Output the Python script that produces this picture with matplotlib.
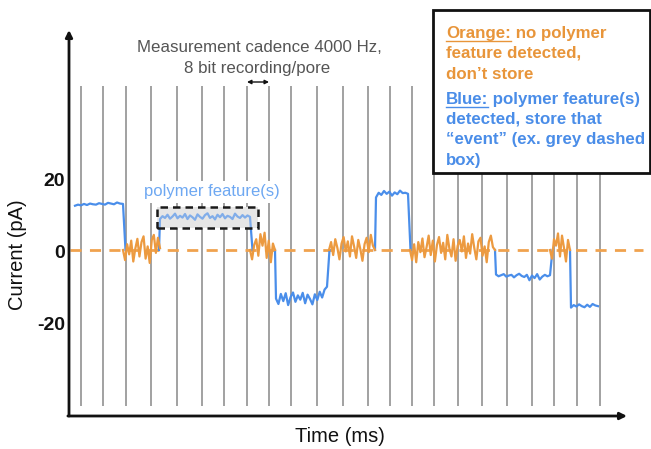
import numpy as np
import matplotlib
matplotlib.use("Agg")
import matplotlib.pyplot as plt
from matplotlib.patches import Rectangle
import matplotlib.transforms as mtransforms

plt.rcParams['font.family'] = ['Liberation Sans', 'DejaVu Sans']

# ---------------- data ----------------
y_ticks = [-20, 0, 20]
y_tick_labels = ["-20", "0", "20"]

# sampling boundaries (time, arbitrary units)
grid_times = [12, 34, 57, 82, 108, 133, 155, 178, 200, 222, 248, 274, 299,
              321, 343, 365, 389, 413, 438, 463, 485, 508, 531]

# blue: polymer feature segments
blue_start = [6, 91, 207, 307, 427, 502]
blue_end = [54, 181, 258, 339, 481, 529]
blue_1 = [12.3, 12.6, 12.4, 12.8, 12.5, 12.9, 12.7, 12.6, 13.0, 12.8, 12.6,
          13.1, 12.9, 12.7, 13.2, 12.9, 12.8]
blue_2 = [8.6, 9.4, 8.9, 9.8, 8.7, 9.3, 10.1, 8.8, 9.5, 9.0, 10.0, 8.6, 9.6,
          9.1, 8.4, 9.9, 9.2, 8.7, 9.7, 10.2, 8.9, 9.4, 8.5, 9.8, 9.1, 10.0,
          8.8, 9.5, 9.2, 8.6, 10.1, 9.3, 8.9, 9.7, 9.0, 9.6, 9.2]
blue_3 = [-13.5, -15.0, -12.2, -14.2, -12.0, -15.3, -13.1, -11.8, -14.4,
          -12.6, -13.8, -11.9, -14.8, -12.4, -13.6, -15.1, -12.3, -13.9,
          -11.6, -13.2, -11.0, -10.2]
blue_4 = [14.6, 15.9, 15.3, 16.4, 15.6, 16.2, 15.1, 16.0, 15.5, 16.5, 15.8,
          15.9, 15.6]
blue_5 = [-6.8, -7.3, -7.0, -6.7, -7.4, -7.1, -6.9, -7.6, -7.0, -6.6, -7.2,
          -7.5, -6.9, -8.4, -7.1, -7.8, -6.7, -8.2, -7.4, -6.9, -7.3, -7.0]
blue_6 = [-16.0, -15.3, -15.7, -15.1, -15.6, -15.9, -15.2, -15.8, -15.0,
          -15.4, -15.6]
blue_values = [blue_1, blue_2, blue_3, blue_4, blue_5, blue_6]

# orange: no polymer feature (baseline noise)
orange_start = [54, 181, 260, 341, 481]
orange_end = [91, 206, 306, 426, 501]
orange_1 = [0.0, -2.8, 1.6, -1.2, 2.6, -3.2, 0.4, 3.1, -1.8, 2.2, 3.8, -2.4,
            1.0, -3.6, 2.8, 4.2, -0.8, 3.4, 0.5]
orange_2 = [0.0, -2.6, 1.4, 3.0, -1.6, 4.4, 1.2, 4.8, -2.2, 2.6, -3.4, 1.8, 0.0]
orange_3 = [0.0, 2.2, -1.4, 3.0, 0.6, -2.6, 1.8, 3.6, -0.4, 2.4, -1.8, 3.8,
            1.0, -2.2, 2.8, 0.2, -3.0, 1.6, 3.4, -0.6, 4.2, 1.2, 0.0]
orange_4 = [0.0, -2.8, 1.6, -3.4, 2.2, -0.6, 3.2, -2.0, 0.8, 4.0, -1.4, 2.6,
            -3.2, 1.4, 3.6, -0.8, 2.0, -2.6, 4.2, 0.4, -1.8, 3.0, -3.0, 1.2,
            2.8, -0.4, 3.8, -2.2, 1.8, -1.0, 4.4, 0.6, -2.6, 2.4, 3.4, -1.6,
            1.0, -3.4, 2.2, 4.0, 0.8, 0.0]
orange_5 = [0.0, -2.4, 3.0, 1.2, 4.6, -1.8, 4.0, 0.6, -3.2, 2.8, 0.0]
orange_values = [orange_1, orange_2, orange_3, orange_4, orange_5]

# stored event box (time range, current range)
event_t = [88, 189]
event_i = [6.1, 11.9]

caption_lines = ["Measurement cadence 4000 Hz,", "8 bit recording/pore"]

# ---------------- styling ----------------
W, H = 651, 449
BLUE = '#4A8EEA'
ORANGE = '#EC9A40'
fig = plt.figure(figsize=(W / 100, H / 100), dpi=100)

def fx(px):
    return px / W

def fy(py):
    return 1 - py / H

ax_left, ax_right, ax_top, ax_bot = 69, 627, 30, 416
ax = fig.add_axes([fx(ax_left), fy(ax_bot), fx(ax_right - ax_left),
                   (ax_bot - ax_top) / H])
scale = 3.6  # px per pA
zero_px = 250
ax.set_xlim(0, ax_right - ax_left)
ax.set_ylim((zero_px - ax_bot) / scale, (zero_px - ax_top) / scale)
for s in ax.spines.values():
    s.set_visible(False)
ax.set_xticks([])
ax.set_yticks(y_ticks)
ax.set_yticklabels(y_tick_labels, fontsize=14, fontweight='bold', color='#111111')
ax.tick_params(axis='y', length=0, pad=3)
shift = mtransforms.ScaledTranslation(0, -2 / 100, fig.dpi_scale_trans)
for lab in ax.get_yticklabels():
    lab.set_transform(lab.get_transform() + shift)
ax.patch.set_alpha(0)

# axes arrows
ax.annotate('', xy=(0, 1), xytext=(0, 0), xycoords='axes fraction',
            arrowprops=dict(arrowstyle='-|>', lw=2.0, color='#111111',
                            mutation_scale=10, shrinkA=0, shrinkB=0))
ax.annotate('', xy=(1, 0), xytext=(-0.002, 0), xycoords='axes fraction',
            arrowprops=dict(arrowstyle='-|>', lw=2.0, color='#111111',
                            mutation_scale=10, shrinkA=0, shrinkB=0))

# vertical sampling lines
ax.vlines(grid_times, (zero_px - 406) / scale, (zero_px - 86) / scale,
          color='#9a9a9a', lw=1.3, zorder=1)

# baseline dashed
ax.plot([1, 574], [0, 0], ls=(0, (4, 3)), color='#F0A24E', lw=2.0,
        clip_on=False, zorder=2)

# event box fill (opaque, hides sampling lines)
ax.add_patch(Rectangle((event_t[0], event_i[0]), event_t[1] - event_t[0],
                       event_i[1] - event_i[0], facecolor='#e6e6e6',
                       edgecolor='none', zorder=2.5))

# blue traces
nb = len(blue_values)
for i, (s, e, vals) in enumerate(zip(blue_start, blue_end, blue_values)):
    t = list(np.linspace(s, e, len(vals)))
    v = list(vals)
    if i > 0:
        t = [s - 1] + t
        v = [0] + v
    if i < nb - 1:
        t = t + [e + 2.5]
        v = v + [0]
    ax.plot(t, v, color=BLUE, lw=1.6, zorder=3, solid_joinstyle='round')

# orange traces
for s, e, vals in zip(orange_start, orange_end, orange_values):
    t = np.linspace(s, e, len(vals))
    ax.plot(t, vals, color=ORANGE, lw=1.6, zorder=4, solid_joinstyle='round')

# event box veil + dashed border
ax.add_patch(Rectangle((event_t[0], event_i[0]), event_t[1] - event_t[0],
                       event_i[1] - event_i[0], facecolor='#e8e8e8', alpha=0.35,
                       edgecolor='none', zorder=5))
ax.add_patch(Rectangle((event_t[0], event_i[0]), event_t[1] - event_t[0],
                       event_i[1] - event_i[0], facecolor='none',
                       edgecolor='#1a1a1a', lw=1.8, ls=(0, (3, 2)), zorder=6))
ax.text((event_t[0] + event_t[1]) / 2 + 4, (zero_px - 192) / scale,
        "polymer feature(s)", color='#6EA8F2', fontsize=12, ha='center',
        va='center', zorder=6,
        bbox=dict(facecolor='white', edgecolor='none', pad=2.5))

# cadence arrow between two sampling lines
ax.annotate('', xy=(grid_times[8], (zero_px - 82) / scale),
            xytext=(grid_times[7], (zero_px - 82) / scale),
            arrowprops=dict(arrowstyle='<|-|>', lw=1.0, color='#111111',
                            mutation_scale=6, shrinkA=0, shrinkB=0))

# caption
fig.text(fx(259), fy(48), caption_lines[0], fontsize=12.2, color='#555555',
         ha='center', va='center')
fig.text(fx(257), fy(68), caption_lines[1], fontsize=12.2, color='#555555',
         ha='center', va='center')

# axis labels
fig.text(fx(18), fy(255), "Current (pA)", fontsize=14.5, rotation=90,
         ha='center', va='center', color='#111111')
fig.text(fx(340), fy(436), "Time (ms)", fontsize=14.5, ha='center',
         va='center', color='#111111')

# legend box
box = Rectangle((fx(433), fy(173)), fx(650 - 433), (173 - 10) / H,
                transform=fig.transFigure, facecolor='white',
                edgecolor='#111111', lw=2.0, zorder=10)
fig.add_artist(box)

LORANGE = '#E8953A'
LBLUE = '#4A8DE8'
renderer = fig.canvas.get_renderer()
legend_lines = [
    (38, [("Orange:", LORANGE, True), (" no polymer", LORANGE, False)]),
    (58, [("feature detected,", LORANGE, False)]),
    (79, [("don\u2019t store", LORANGE, False)]),
    (104, [("Blue:", LBLUE, True), (" polymer feature(s)", LBLUE, False)]),
    (124, [("detected, store that", LBLUE, False)]),
    (144, [("\u201cevent\u201d (ex. grey dashed", LBLUE, False)]),
    (165, [("box)", LBLUE, False)]),
]
for ypx, parts in legend_lines:
    xpx = 446
    for txt, col, underline in parts:
        tt = fig.text(fx(xpx), fy(ypx), txt, fontsize=12.2, fontweight='bold',
                      color=col, ha='left', va='baseline', zorder=11)
        bb = tt.get_window_extent(renderer=renderer)
        if underline:
            fig.add_artist(plt.Line2D([fx(xpx), fx(xpx + bb.width)],
                                      [fy(ypx + 2.5), fy(ypx + 2.5)],
                                      transform=fig.transFigure, color=col,
                                      lw=1.0, zorder=11))
        xpx += bb.width

fig.savefig('out.png', dpi=100)
